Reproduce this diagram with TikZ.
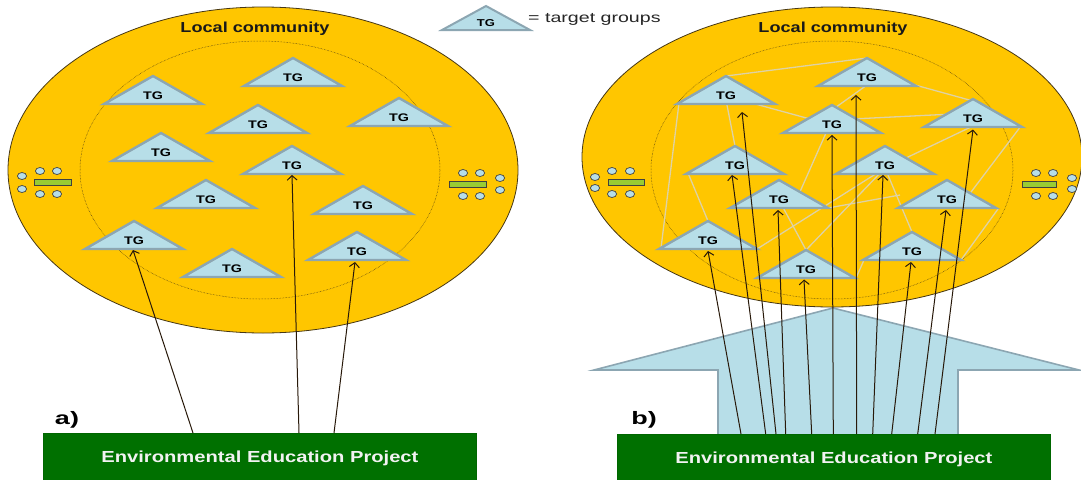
\documentclass[tikz,border=0pt]{standalone}
\usepackage{fontspec}
\setmainfont{Liberation Sans}
\usetikzlibrary{arrows.meta,calc}
\definecolor{yel}{RGB}{255,198,0}
\definecolor{tgfill}{RGB}{183,222,232}
\definecolor{tgline}{RGB}{140,166,178}
\definecolor{pgreen}{RGB}{0,112,0}
\definecolor{lgreen}{RGB}{153,204,51}
\definecolor{netline}{RGB}{222,210,165}
\definecolor{edge}{RGB}{70,55,20}
\definecolor{arrcol}{RGB}{40,25,10}
\newcommand{\hs}[2]{\scalebox{#1}[1]{#2}}
\newcommand{\tgdef}[3]{\coordinate (#1a) at (#2,#3);}
\newcommand{\tgdraw}[1]{%
  \path[tri] ($(#1a)+(-49,28)$) -- (#1a) -- ($(#1a)+(49,28)$) -- cycle;
  \node[tgtext] (#1) at ($(#1a)+(0,20)$) {\hs{1.3}{TG}};}
\newcommand{\seatat}[2]{\draw[seat] (#1,#2) ellipse [x radius=4.6, y radius=3.5];}
\begin{document}
\begin{tikzpicture}[x=1pt,y=-1pt,
  tri/.style={fill=tgfill,draw=tgline,line width=2.4pt,line join=miter},
  tgtext/.style={font=\bfseries\fontsize{11}{11}\selectfont,inner sep=0pt},
  net/.style={draw=netline,line width=1.3pt},
  arr/.style={draw=arrcol,line width=1pt,-{Straight Barb[length=4.5pt,width=10pt]}},
  seat/.style={fill=tgfill,draw=black!75,line width=0.7pt},
  desk/.style={fill=lgreen,draw=black!75,line width=0.6pt},
  outer/.style={fill=yel,draw=edge,line width=0.8pt},
  inner/.style={draw=edge,densely dotted,line width=0.5pt},
  lc/.style={font=\bfseries\fontsize{14.5}{14.5}\selectfont,text=black!90,inner sep=0pt},
  pbox/.style={fill=pgreen,draw=black!60!green,line width=0.8pt,text=white!95!black,
    font=\bfseries\fontsize{16}{16}\selectfont,minimum width=433pt,minimum height=50pt,
    anchor=north west,inner sep=0pt},
  lab/.style={font=\bfseries\fontsize{18}{18}\selectfont,inner sep=0pt}]
\useasboundingbox (0,0) rectangle (1081,479);
\fill[white] (0,0) rectangle (1081,479);

% big arrow (b)
\path[fill=tgfill,draw=tgline,line width=1.6pt,line join=miter]
  (833,308) -- (1079,370) -- (958,370) -- (958,436) -- (718,436) -- (718,370) -- (594,370) -- cycle;

% ellipses
\path[outer] (263,170) ellipse [x radius=255, y radius=163];
\path[inner] (260,170) ellipse [x radius=180, y radius=129];
\path[outer] (832,157) ellipse [x radius=250, y radius=150];
\path[inner] (832,170) ellipse [x radius=181, y radius=129];

% icons left ellipse
\draw[desk] (34,179) rectangle (71,185);
\seatat{22}{176}\seatat{22}{189}\seatat{40}{171}\seatat{57}{171}\seatat{40}{194}\seatat{57}{194}
\draw[desk] (449,181) rectangle (486,187);
\seatat{463}{173}\seatat{480}{173}\seatat{463}{196}\seatat{480}{196}\seatat{500}{178}\seatat{500}{190}
% icons right ellipse
\draw[desk] (608,179) rectangle (644,185);
\seatat{595}{177}\seatat{595}{188}\seatat{612}{171}\seatat{630}{171}\seatat{612}{194}\seatat{630}{194}
\draw[desk] (1022,181) rectangle (1056,187);
\seatat{1036}{173}\seatat{1053}{173}\seatat{1036}{196}\seatat{1053}{196}\seatat{1072}{178}\seatat{1072}{189}

% titles
\node[lc] (lcL) at (255,29) {\hs{1.25}{Local community}};
\node[lc] (lcR) at (833,29) {\hs{1.25}{Local community}};

% triangle positions (apex)
\tgdef{L1}{153}{76}\tgdef{L2}{293}{58}\tgdef{L3}{258}{105}\tgdef{L4}{399}{98}
\tgdef{L5}{161}{133}\tgdef{L6}{292}{146}\tgdef{L7}{206}{180}\tgdef{L8}{363}{186}
\tgdef{L9}{134}{221}\tgdef{L10}{232}{249}\tgdef{L11}{357}{232}
\tgdef{R1}{726}{76}\tgdef{R2}{867}{58}\tgdef{R3}{832}{105}\tgdef{R4}{973}{99}
\tgdef{R5}{735}{146}\tgdef{R6}{885}{146}\tgdef{R7}{779}{180}\tgdef{R8}{947}{180}
\tgdef{R9}{708}{221}\tgdef{R10}{806}{250}\tgdef{R11}{912}{232}

% network lines (b)
\draw[net] (R1a) -- (R2a);
\draw[net] ($(R1a)+(-47,27)$) -- ($(R9a)+(-47,27)$);
\draw[net] ($(R1a)+(0,24)$) -- (R5a);
\draw[net] ($(R1a)+(0,20)$) -- ($(R3a)+(0,20)$);
\draw[net] ($(R3a)+(0,5)$) -- ($(R2a)+(0,27)$);
\draw[net] ($(R2a)+(48,27)$) -- ($(R4a)+(0,2)$);
\draw[net] ($(R3a)+(0,15)$) -- ($(R4a)+(0,14)$);
\draw[net] ($(R4a)+(48,27)$) -- ($(R8a)+(18,20)$);
\draw[net] ($(R6a)+(0,22)$) -- ($(R4a)+(0,27)$);
\draw[net] ($(R5a)+(-47,27)$) -- (R9a);
\draw[net] ($(R3a)+(-6,28)$) -- ($(R7a)+(16,23)$);
\draw[net] ($(R7a)+(0,20)$) -- (R10a);
\draw[net] ($(R7a)+(49,28)$) -- ($(R8a)+(-47,15)$);
\draw[net] ($(R6a)+(0,22)$) -- (R10a);
\draw[net] ($(R6a)+(0,22)$) -- (R11a);
\draw[net] ($(R11a)+(49,28)$) -- ($(R8a)+(51,29)$);
\draw[net] ($(R10a)+(50,28)$) -- ($(R11a)+(-48,28)$);
\draw[net] ($(R9a)+(49,28)$) -- ($(R6a)+(0,22)$);

% triangles
\foreach \t in {L1,L2,L3,L4,L5,L6,L7,L8,L9,L10,L11,R1,R2,R3,R4,R5,R6,R7,R8,R9,R10,R11}{\tgdraw{\t}}

% legend
\path[tri,line width=2pt] (442,30) -- (486,6) -- (530,30) -- cycle;
\node[tgtext,font=\bfseries\fontsize{10}{10}\selectfont] (LG) at (486,23) {\hs{1.3}{TG}};
\node[anchor=west,inner sep=0pt,font=\fontsize{14}{14}\selectfont,text=black!85] (LGT) at (528,19) {\hs{1.4}{= target groups}};

% project boxes
\node[pbox] (PL) at (43,433) {\hs{1.26}{Environmental Education Project}};
\node[pbox] (PR) at (617,434) {\hs{1.26}{Environmental Education Project}};
\node[lab] (la) at (67,420) {\hs{1.5}{a)}};
\node[lab] (lb) at (644,420) {\hs{1.5}{b)}};

% arrows (a)
\draw[arr] ($(PL.north west)+(150,0)$) -- ($(L9)+(-1,9)$);
\draw[arr] ($(PL.north west)+(256,0)$) -- ($(L6)+(0,9)$);
\draw[arr] ($(PL.north west)+(291,0)$) -- ($(L11)+(-2,10)$);
% arrows (b)
\draw[arr] ($(PR.north west)+(124,0)$) -- ($(R9)+(0,10)$);
\draw[arr] ($(PR.north west)+(148.7,0)$) -- ($(R5)+(-3,9)$);
\draw[arr] ($(PR.north west)+(159,0)$) -- ($(R1)+(16,16)$);
\draw[arr] ($(PR.north west)+(168.7,0)$) -- ($(R7)+(-1,10)$);
\draw[arr] ($(PR.north west)+(194.7,0)$) -- ($(R10)+(-2,9.5)$);
\draw[arr] ($(PR.north west)+(216.3,0)$) -- ($(R3)+(0,10)$);
\draw[arr] ($(PR.north west)+(239.7,0)$) -- ($(R2)+(-11,17)$);
\draw[arr] ($(PR.north west)+(255.7,0)$) -- ($(R6)+(-2,9)$);
\draw[arr] ($(PR.north west)+(274.7,0)$) -- ($(R11)+(-1,10)$);
\draw[arr] ($(PR.north west)+(300.7,0)$) -- ($(R8)+(-1,10)$);
\draw[arr] ($(PR.north west)+(318,0)$) -- ($(R4)+(0,10.5)$);
\end{tikzpicture}
\end{document}
